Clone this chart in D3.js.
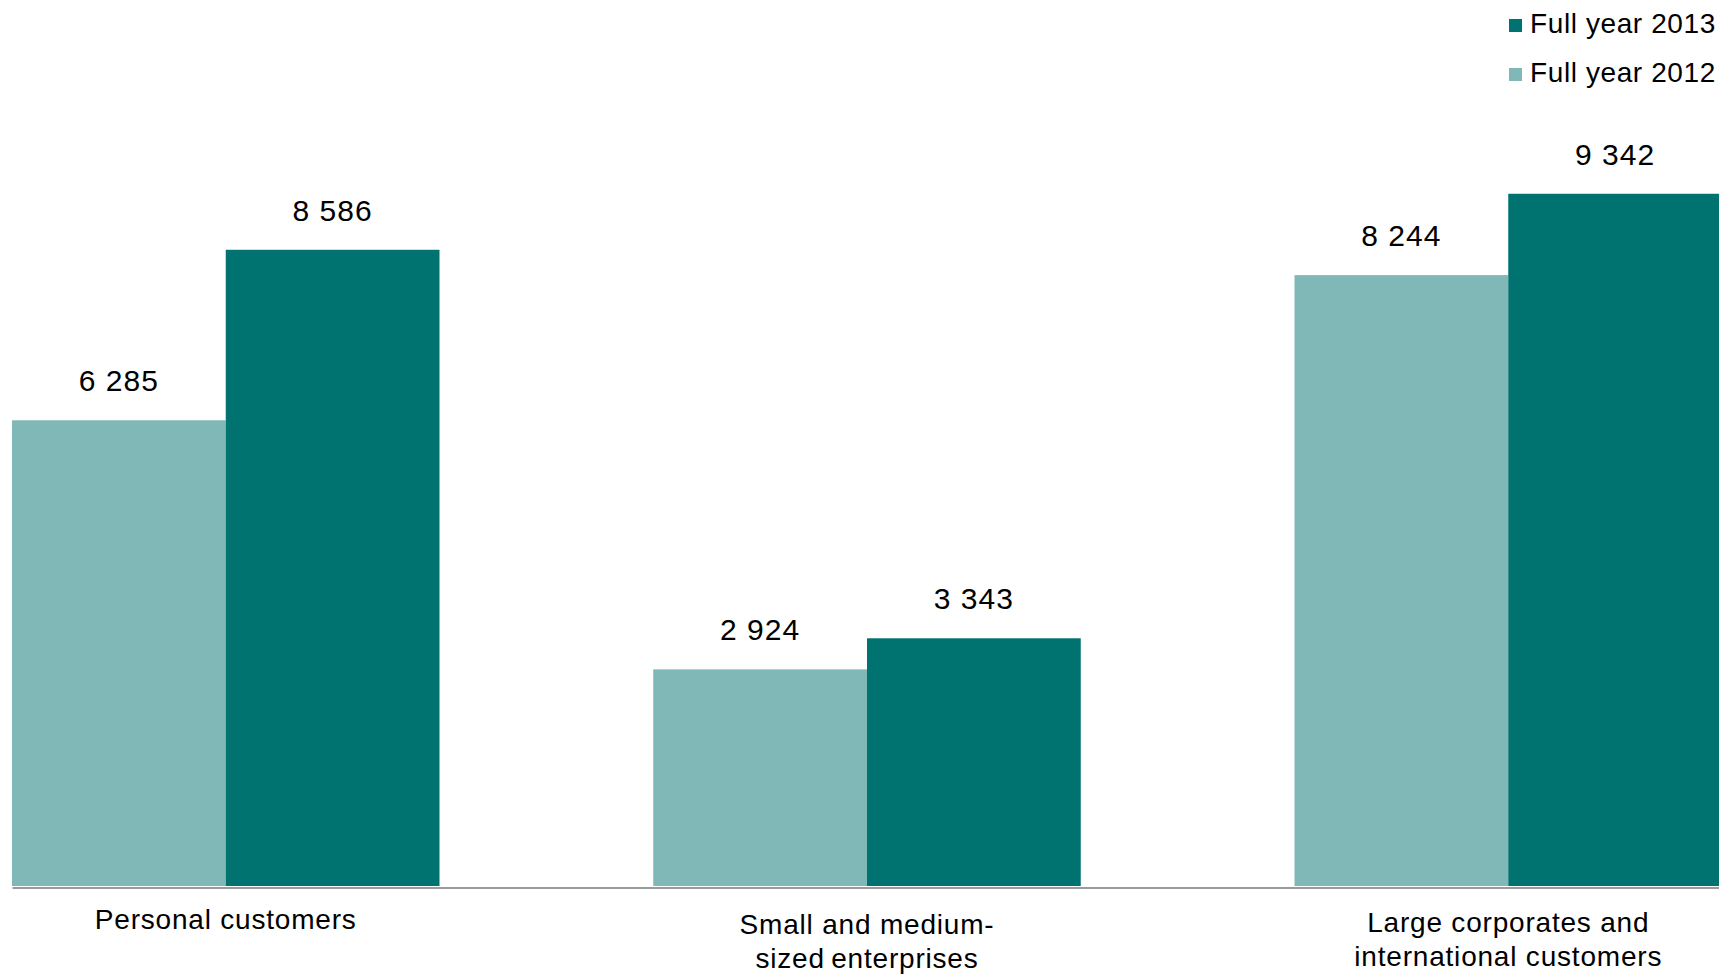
<!DOCTYPE html>
<html>
<head>
<meta charset="utf-8">
<script src="https://cdn.jsdelivr.net/npm/d3@7"></script>
<style>
  html, body { margin: 0; padding: 0; background: #fff; overflow: hidden; }
  text { font-family: "Liberation Sans", Arial, sans-serif; fill: #000; }
</style>
</head>
<body>
<svg id="chart" width="1719" height="974"></svg>
<script>
const categories = ["Personal customers", "Small and medium-sized enterprises", "Large corporates and international customers"];
const categoryLines = [["Personal customers"], ["Small and medium-", "sized\u2009enterprises"], ["Large corporates and", "international customers"]];
const seriesNames = ["Full year 2012", "Full year 2013"];
const values2012 = [6285, 2924, 8244];
const values2013 = [8586, 3343, 9342];
const valueLabels2012 = ["6 285", "2 924", "8 244"];
const valueLabels2013 = ["8 586", "3 343", "9 342"];
const legendOrder = ["Full year 2013", "Full year 2012"];

const colors = { "Full year 2012": "#80B8B8", "Full year 2013": "#007370" };

const svg = d3.select("#chart");
const baseY = 886;

const x0 = d3.scaleBand().domain(categories).range([12, 1722]).paddingInner(1/3).paddingOuter(0);
const x1 = d3.scaleBand().domain(seriesNames).range([0, x0.bandwidth()]).padding(0);
const y = d3.scaleLinear().domain([0, 10000]).range([baseY, 145]);

const rows = categories.map((c, i) => ({
  cat: c,
  items: [
    { s: "Full year 2012", v: values2012[i], label: valueLabels2012[i] },
    { s: "Full year 2013", v: values2013[i], label: valueLabels2013[i] }
  ]
}));

const g = svg.append("g");
const groups = g.selectAll("g.grp").data(rows).join("g")
  .attr("class", "grp")
  .attr("transform", d => `translate(${x0(d.cat)},0)`);

groups.selectAll("rect").data(d => d.items).join("rect")
  .attr("x", d => x1(d.s))
  .attr("y", d => y(d.v))
  .attr("width", x1.bandwidth())
  .attr("height", d => y(0) - y(d.v))
  .attr("fill", d => colors[d.s]);

groups.selectAll("text.val").data(d => d.items).join("text")
  .attr("class", "val")
  .attr("x", d => x1(d.s) + x1.bandwidth() / 2)
  .attr("y", d => y(d.v) - 29)
  .attr("text-anchor", "middle")
  .style("font-size", "30px")
  .style("letter-spacing", "1px")
  .text(d => d.label);

// axis line
const xAxis = d3.axisBottom(x0).tickSize(0).tickFormat("");
const axisG = svg.append("g").attr("transform", `translate(0,${baseY + 1.5})`).call(xAxis);
axisG.select(".domain").attr("stroke", "#9a9a9a").attr("stroke-width", 2);

// category labels
const labelBase = [929, 934, 932];
categories.forEach((c, i) => {
  const t = svg.append("text")
    .attr("x", x0(c) + x0.bandwidth() / 2)
    .attr("y", labelBase[i])
    .attr("text-anchor", "middle")
    .style("font-size", "28px")
    .style("letter-spacing", "0.8px");
  categoryLines[i].forEach((line, j) => {
    t.append("tspan")
      .attr("x", x0(c) + x0.bandwidth() / 2)
      .attr("dy", j === 0 ? 0 : 34)
      .text(line);
  });
});

// legend
const legend = svg.append("g").attr("transform", "translate(1509,0)");
legendOrder.forEach((name, i) => {
  const yy = 33 + i * 49;
  legend.append("rect").attr("x", 0).attr("y", yy - 14).attr("width", 13).attr("height", 13).attr("fill", colors[name]);
  legend.append("text").attr("x", 21).attr("y", yy).style("font-size", "28px").style("letter-spacing", "0.6px").text(name);
});
</script>
</body>
</html>
